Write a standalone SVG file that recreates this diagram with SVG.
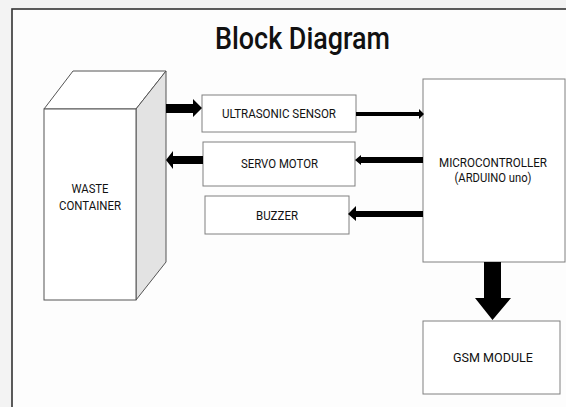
<svg xmlns="http://www.w3.org/2000/svg" width="566" height="407" viewBox="0 0 566 407">
  <style>
    .box { fill: #ffffff; stroke: #808080; stroke-width: 1; }
    .lbl { font-family: Roboto, "Liberation Sans", sans-serif; font-size: 12.5px; font-weight: 400; fill: #111111; text-anchor: middle; }
    .ttl { font-family: Roboto, "Liberation Sans", sans-serif; font-size: 31px; font-weight: 500; fill: #111111; }
    .arr { fill: #000000; }
  </style>
  <rect x="0" y="0" width="566" height="407" fill="#f3f3f3"/>
  <rect x="12" y="9" width="560" height="410" fill="#fdfdfd" stroke="#333333" stroke-width="1.6"/>
  <text class="ttl" x="215" y="49" textLength="175" lengthAdjust="spacingAndGlyphs">Block Diagram</text>

  <g id="waste-container">
    <polygon points="44,109 73,71 166,71 136,109" fill="#ffffff" stroke="#555555" stroke-width="1"/>
    <polygon points="136,109 166,71 166,262 136,300" fill="#e3e3e3" stroke="#555555" stroke-width="1"/>
    <rect x="44" y="109" width="92" height="191" fill="#ffffff" stroke="#555555" stroke-width="1"/>
    <text class="lbl" x="90" y="193" textLength="37" lengthAdjust="spacingAndGlyphs">WASTE</text>
    <text class="lbl" x="90" y="210" textLength="62" lengthAdjust="spacingAndGlyphs">CONTAINER</text>
  </g>

  <g id="ultrasonic-sensor">
    <rect class="box" x="202" y="95" width="154" height="37"/>
    <text class="lbl" x="279" y="118" textLength="114" lengthAdjust="spacingAndGlyphs">ULTRASONIC SENSOR</text>
  </g>

  <g id="servo-motor">
    <rect class="box" x="203" y="142" width="152" height="44"/>
    <text class="lbl" x="279.5" y="168" textLength="77" lengthAdjust="spacingAndGlyphs">SERVO MOTOR</text>
  </g>

  <g id="buzzer">
    <rect class="box" x="205" y="196" width="144" height="38"/>
    <text class="lbl" x="277" y="220" textLength="42" lengthAdjust="spacingAndGlyphs">BUZZER</text>
  </g>

  <g id="microcontroller">
    <rect class="box" x="423" y="79" width="142" height="183"/>
    <text class="lbl" x="493" y="167" textLength="108" lengthAdjust="spacingAndGlyphs">MICROCONTROLLER</text>
    <text class="lbl" x="493" y="182" textLength="77" lengthAdjust="spacingAndGlyphs">(ARDUINO uno)</text>
  </g>

  <g id="gsm-module">
    <rect class="box" x="423" y="321" width="137" height="73"/>
    <text class="lbl" x="493" y="362" textLength="80" lengthAdjust="spacingAndGlyphs">GSM MODULE</text>
  </g>

  <g id="connectors">
    <polygon class="arr" points="166,104 193,104 193,99 202,108 193,117 193,113 166,113"/>
    <polygon class="arr" points="203,156 173,156 173,151 166,160 173,169 173,164 203,164"/>
    <polygon class="arr" points="356,112 419,112 419,109 424,114 419,119 419,116 356,116"/>
    <polygon class="arr" points="423,157 361,157 361,155 355,160 361,165 361,163 423,163"/>
    <polygon class="arr" points="423,211 356,211 356,206 348,214 356,221 356,217 423,217"/>
    <polygon class="arr" points="484,262 501,262 501,298 511,298 492.5,320 475,298 484,298"/>
  </g>
</svg>
